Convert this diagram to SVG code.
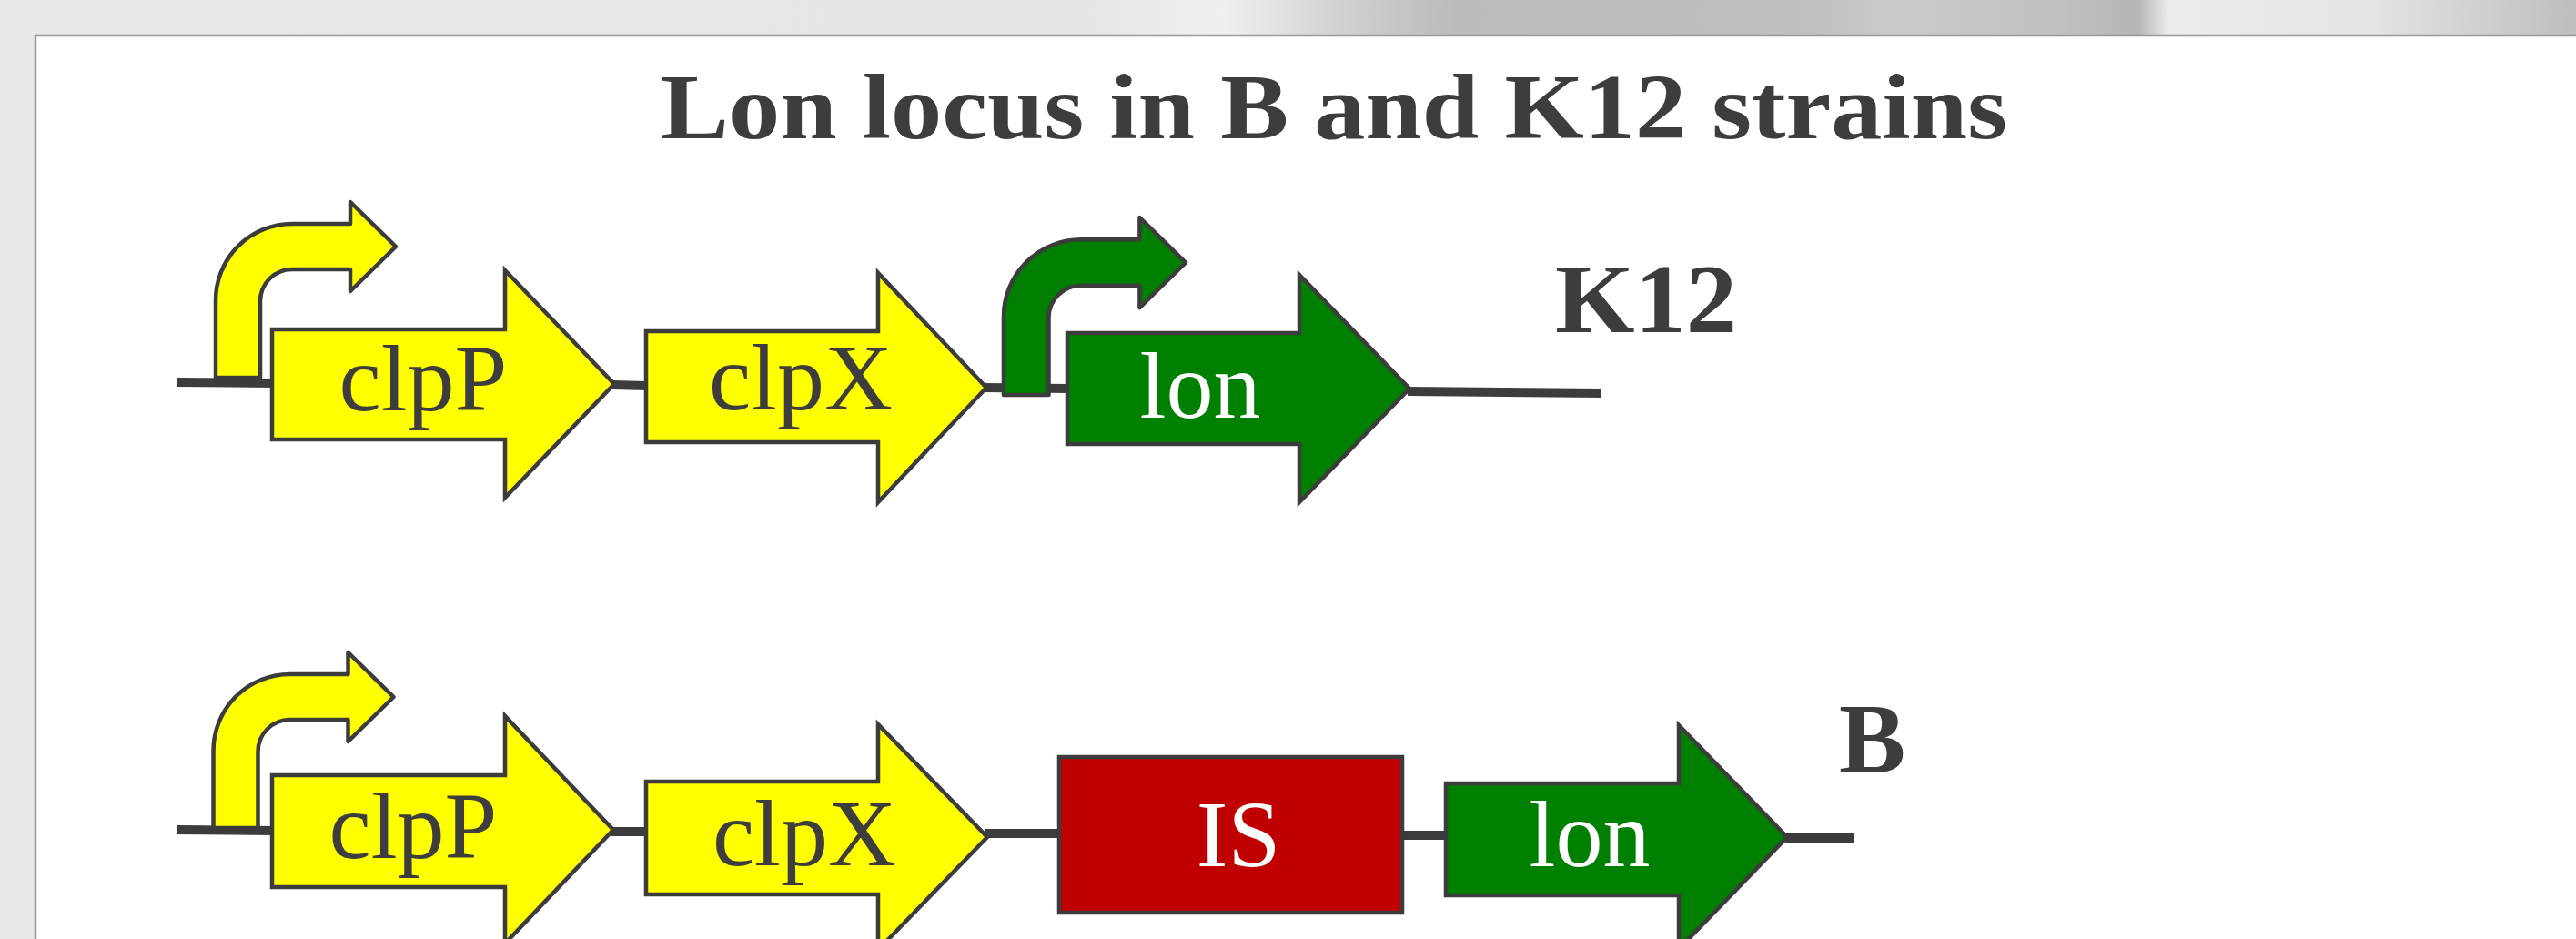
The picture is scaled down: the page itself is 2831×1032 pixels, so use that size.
<svg xmlns="http://www.w3.org/2000/svg" xmlns:xlink="http://www.w3.org/1999/xlink" width="2831" height="1032" viewBox="0 0 2831 1032">
  <style>
    .gene { stroke: #3b3c3b; stroke-width: 4.5; stroke-linejoin: miter; }
    .yel { fill: #ffff00; }
    .grn { fill: #008000; }
    .red { fill: #c00000; }
    .prom { stroke: #3b3c3b; stroke-width: 4.5; stroke-linejoin: round; }
    .dna { stroke: #3b3c3b; stroke-width: 10; fill: none; }
    .lbl { font-family: "Liberation Serif", "Times New Roman", serif; font-size: 104px; text-anchor: middle; }
    .dark { fill: #3c3d3c; }
    .white { fill: #ffffff; }
    .bold { font-family: "Liberation Serif", "Times New Roman", serif; font-weight: bold; fill: #3c3d3c; }
  </style>
  <defs>
    <linearGradient id="topbg" x1="0" y1="0" x2="2831" y2="0" gradientUnits="userSpaceOnUse">
      <stop offset="0" stop-color="#e8e8e8"/>
      <stop offset="0.42" stop-color="#e4e5e7"/>
      <stop offset="0.475" stop-color="#f0f0f2"/>
      <stop offset="0.52" stop-color="#d0d1d3"/>
      <stop offset="0.565" stop-color="#babbbd"/>
      <stop offset="0.70" stop-color="#bebfc1"/>
      <stop offset="0.735" stop-color="#c9cacc"/>
      <stop offset="0.80" stop-color="#c0c1c3"/>
      <stop offset="0.83" stop-color="#b4b5b7"/>
      <stop offset="0.842" stop-color="#ececee"/>
      <stop offset="0.92" stop-color="#e4e4e6"/>
      <stop offset="1" stop-color="#bdbec0"/>
    </linearGradient>
    <path id="promoter" d="M0,0 L0,-85 A84,84 0 0 1 84,-169 L148,-169 L148,-193 L198,-144 L148,-95 L148,-119 L84,-119 A35,35 0 0 0 49,-84 L49,0 Z"/>
  </defs>

  <!-- background -->
  <rect x="0" y="0" width="2831" height="1032" fill="#e6e7e8"/>
  <rect x="0" y="0" width="2831" height="39" fill="url(#topbg)"/>
  <rect x="39" y="39" width="2800" height="1000" fill="#ffffff"/>
  <path d="M39,1032 L39,39 L2831,39" fill="none" stroke="#9a9a9a" stroke-width="2.5"/>

  <!-- title -->
  <text id="title" class="bold" x="726" y="152" font-size="101" textLength="1480" lengthAdjust="spacingAndGlyphs">Lon locus in B and K12 strains</text>

  <!-- connectors (DNA backbone) -->
  <g id="connectors">
    <line class="dna" x1="194" y1="420" x2="301" y2="421"/>
    <line class="dna" x1="673" y1="423" x2="712" y2="424"/>
    <line class="dna" x1="1082" y1="426" x2="1175" y2="427"/>
    <line class="dna" x1="1547" y1="430" x2="1760" y2="432"/>

    <line class="dna" x1="194" y1="912" x2="301" y2="913"/>
    <line class="dna" x1="672" y1="914" x2="712" y2="914"/>
    <line class="dna" x1="1083" y1="916" x2="1166" y2="916"/>
    <line class="dna" x1="1539" y1="918" x2="1591" y2="918"/>
    <line class="dna" x1="1962" y1="921" x2="2038" y2="921"/>
  </g>

  <!-- K12 strain -->
  <g id="k12-promoter-clpP">
    <use xlink:href="#promoter" class="prom yel" transform="translate(237,415)"/>
  </g>
  <g id="k12-clpP">
    <polygon class="gene yel" points="299,362 555,362 555,297 675,422 555,547 555,483 299,483"/>
    <text class="lbl dark" x="465" y="451">clpP</text>
  </g>
  <g id="k12-clpX">
    <polygon class="gene yel" points="710,364 965,364 965,300 1084,426 965,552 965,486 710,486"/>
    <text class="lbl dark" x="880" y="450">clpX</text>
  </g>
  <g id="k12-promoter-lon">
    <use xlink:href="#promoter" class="prom grn" transform="translate(1103,434) scale(1.01,1.01)"/>
  </g>
  <g id="k12-lon">
    <polygon class="gene grn" points="1173,366 1428,366 1428,302 1549,427 1428,552 1428,488 1173,488"/>
    <text class="lbl white" x="1319" y="459">lon</text>
  </g>
  <g id="label-k12">
    <text class="bold" x="1709" y="365" font-size="108" textLength="200" lengthAdjust="spacingAndGlyphs">K12</text>
  </g>

  <!-- B strain -->
  <g id="b-promoter-clpP">
    <use xlink:href="#promoter" class="prom yel" transform="translate(234.5,910)"/>
  </g>
  <g id="b-clpP">
    <polygon class="gene yel" points="299,852 555,852 555,787 674,912 555,1037 555,975 299,975"/>
    <text class="lbl dark" x="454" y="943">clpP</text>
  </g>
  <g id="b-clpX">
    <polygon class="gene yel" points="710,859 965,859 965,796 1085,920 965,1044 965,983 710,983"/>
    <text class="lbl dark" x="884" y="951">clpX</text>
  </g>
  <g id="b-IS">
    <rect class="gene red" x="1164" y="832" width="377" height="171"/>
    <text class="lbl white" x="1361" y="952">IS</text>
  </g>
  <g id="b-lon">
    <polygon class="gene grn" points="1589,861 1845,861 1845,797 1964,920 1845,1043 1845,984 1589,984"/>
    <text class="lbl white" x="1747" y="952">lon</text>
  </g>
  <g id="label-b">
    <text class="bold" x="2021" y="849" font-size="110">B</text>
  </g>
</svg>
